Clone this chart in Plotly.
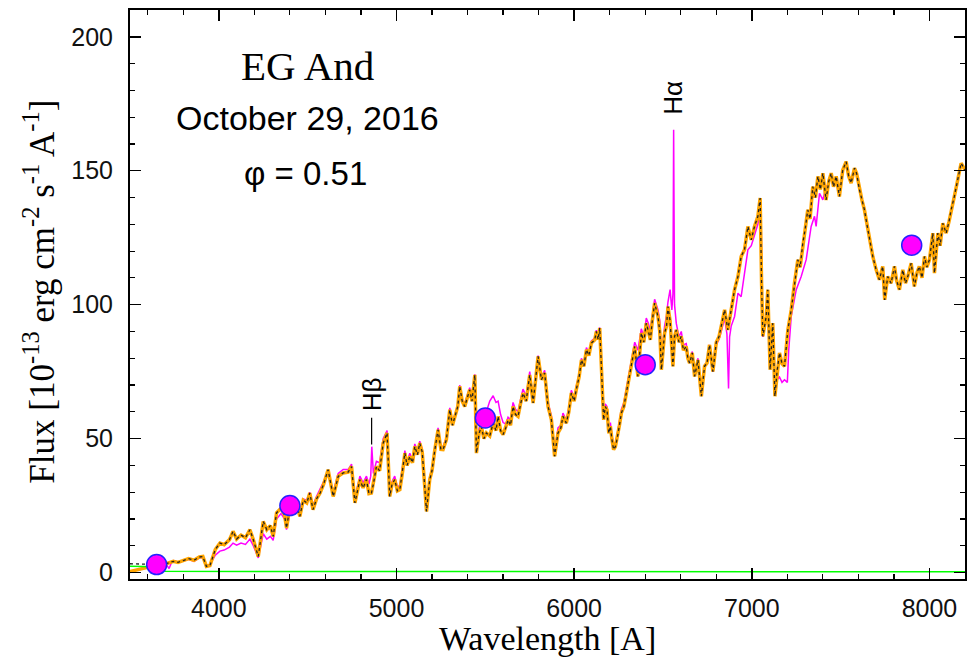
import plotly.graph_objects as go

# ---------------- data ----------------
model_wl = [3640, 3700, 3744, 3770, 3800, 3830, 3860, 3890, 3910, 3930, 3950, 3980, 4006, 4030, 4060, 4080,
            4100, 4125, 4150, 4175, 4194, 4222, 4250, 4270, 4290, 4306, 4325, 4350, 4370, 4381, 4400, 4420,
            4440, 4456, 4475, 4495, 4512, 4530, 4550, 4570, 4590, 4615, 4644, 4672, 4700, 4728, 4747, 4766,
            4794, 4812, 4831, 4845, 4859, 4870, 4887, 4905, 4925, 4947, 4962, 4975, 4990, 5005, 5019, 5035,
            5047, 5060, 5075, 5090, 5103, 5118, 5131, 5145, 5154, 5169, 5187, 5200, 5216, 5234, 5250, 5262,
            5281, 5300, 5315, 5328, 5345, 5356, 5370, 5384, 5400, 5412, 5425, 5441, 5450, 5465, 5478, 5492,
            5506, 5525, 5544, 5560, 5572, 5586, 5600, 5615, 5628, 5642, 5656, 5670, 5684, 5698, 5712, 5730,
            5750, 5769, 5778, 5797, 5816, 5834, 5853, 5872, 5890, 5909, 5925, 5937, 5956, 5970, 5984, 6000,
            6012, 6028, 6041, 6055, 6069, 6083, 6097, 6116, 6125, 6135, 6144, 6153, 6166, 6175, 6185, 6195,
            6204, 6212, 6222, 6232, 6241, 6255, 6266, 6280, 6294, 6308, 6322, 6341, 6359, 6378, 6392, 6406,
            6418, 6429, 6440, 6453, 6472, 6482, 6491, 6509, 6520, 6528, 6540, 6556, 6565, 6575, 6590, 6603,
            6615, 6631, 6640, 6650, 6665, 6678, 6697, 6716, 6734, 6748, 6762, 6781, 6800, 6815, 6828, 6847,
            6865, 6884, 6903, 6922, 6940, 6959, 6978, 6997, 7015, 7034, 7047, 7055, 7062, 7081, 7090, 7103,
            7118, 7130, 7142, 7156, 7170, 7184, 7203, 7222, 7240, 7259, 7272, 7287, 7300, 7315, 7328, 7343,
            7358, 7372, 7386, 7400, 7418, 7433, 7447, 7460, 7475, 7493, 7512, 7531, 7545, 7559, 7578, 7590,
            7606, 7620, 7634, 7648, 7662, 7681, 7700, 7718, 7737, 7748, 7765, 7784, 7803, 7815, 7831, 7850,
            7865, 7878, 7897, 7915, 7930, 7943, 7958, 7972, 7985, 8000, 8019, 8028, 8047, 8060, 8075, 8094,
            8110, 8122, 8140, 8159, 8178, 8200]
model_flux = [2.6, 3.2, 4.2, 3.8, 4.5, 5.2, 4.6, 5.8, 6.0, 2.3, 2.6, 8.6, 11.0, 10.4, 12.3, 15.4,
              12.5, 14.0, 13.0, 16.0, 12.3, 6.0, 19.1, 16.0, 17.5, 13.5, 22.3, 24.0, 21.5, 16.6, 24.5, 23.0,
              25.0, 21.0, 27.0, 26.0, 29.7, 23.5, 27.5, 29.7, 33.0, 38.4, 28.4, 35.9, 37.2, 37.5, 39.6, 26.0,
              34.7, 31.6, 34.7, 29.5, 29.7, 33.0, 39.6, 38.0, 48.3, 52.1, 28.4, 33.0, 34.7, 30.5, 31.0, 38.0,
              44.6, 40.0, 43.4, 41.0, 47.1, 44.0, 48.3, 45.0, 37.2, 22.8, 34.7, 38.0, 45.9, 53.3, 46.0, 45.9,
              49.6, 60.8, 55.0, 58.3, 62.0, 69.5, 64.0, 62.0, 66.0, 68.2, 64.0, 73.8, 44.6, 52.0, 54.5, 50.0,
              52.1, 51.0, 55.8, 53.0, 58.3, 53.0, 51.5, 54.0, 57.0, 55.0, 62.0, 59.0, 58.3, 63.0, 67.0, 64.0,
              73.8, 63.3, 68.3, 80.7, 72.0, 74.5, 62.0, 57.0, 43.4, 52.1, 54.0, 58.3, 55.8, 60.0, 67.0, 64.0,
              68.3, 73.0, 79.4, 77.0, 83.2, 81.0, 85.7, 86.9, 90.0, 87.0, 91.3, 79.4, 57.0, 62.0, 60.8, 52.0,
              54.6, 50.0, 45.9, 47.0, 49.6, 55.0, 59.6, 62.0, 67.0, 72.0, 78.2, 84.4, 73.2, 89.4, 86.0, 93.1,
              90.0, 86.9, 94.0, 100.6, 95.6, 90.0, 75.7, 89.4, 92.0, 99.3, 94.0, 77.0, 88.0, 90.6, 86.0, 88.2,
              83.0, 84.4, 80.0, 78.2, 82.0, 73.2, 79.4, 65.8, 77.0, 78.2, 85.0, 75.0, 86.0, 88.0, 92.0, 98.1,
              90.6, 98.1, 105.6, 110.5, 118.0, 120.5, 129.2, 124.2, 129.2, 132.9, 139.8, 108.0, 88.2, 95.6, 105.6, 75.7,
              93.1, 65.8, 75.0, 82.0, 78.0, 77.0, 90.6, 98.1, 108.0, 116.8, 114.0, 123.0, 128.0, 135.4, 132.0, 144.1,
              140.0, 147.9, 143.0, 149.1, 139.1, 146.0, 149.1, 144.0, 147.9, 140.4, 150.3, 153.4, 148.0, 145.4, 151.0, 149.0,
              142.9, 139.0, 135.4, 130.0, 124.2, 118.0, 113.0, 109.3, 114.3, 101.8, 110.5, 108.0, 114.3, 109.0, 105.6, 113.0,
              108.0, 110.5, 115.5, 106.8, 112.0, 114.3, 110.0, 118.0, 114.0, 116.8, 126.7, 111.8, 126.7, 122.0, 130.4, 126.7,
              131.0, 135.4, 140.4, 146.6, 152.8, 150.3]

# blue end of the two model components (they differ below ~3640 A)
orange_head_wl = [3500, 3600]
orange_head_flux = [0.4, 2.0]
black_head_wl = [3500, 3560, 3600]
black_head_flux = [3.3, 3.2, 3.1]

obs_wl = [3620, 3640, 3660, 3700, 3720, 3735, 3744, 3770, 3800, 3830, 3860, 3890, 3910, 3930, 3950, 3980,
          4006, 4030, 4060, 4080, 4100, 4125, 4150, 4175, 4194, 4222, 4250, 4270, 4290, 4306, 4325, 4350,
          4370, 4381, 4400, 4420, 4440, 4456, 4475, 4495, 4512, 4530, 4550, 4570, 4590, 4615, 4644, 4672,
          4700, 4728, 4747, 4766, 4794, 4812, 4831, 4845, 4855, 4861, 4866, 4870, 4887, 4905, 4925, 4947,
          4962, 4975, 4990, 5005, 5019, 5035, 5047, 5060, 5075, 5090, 5103, 5118, 5131, 5145, 5154, 5169,
          5187, 5200, 5216, 5234, 5250, 5262, 5281, 5300, 5315, 5328, 5345, 5356, 5370, 5384, 5400, 5412,
          5425, 5441, 5450, 5465, 5478, 5492, 5506, 5525, 5544, 5560, 5572, 5586, 5600, 5615, 5628, 5642,
          5656, 5670, 5684, 5698, 5712, 5730, 5750, 5769, 5778, 5797, 5816, 5834, 5853, 5872, 5890, 5909,
          5925, 5937, 5956, 5970, 5984, 6000, 6012, 6028, 6041, 6055, 6069, 6083, 6097, 6116, 6125, 6135,
          6144, 6153, 6166, 6175, 6185, 6195, 6204, 6212, 6222, 6232, 6241, 6255, 6266, 6280, 6294, 6308,
          6322, 6341, 6359, 6378, 6392, 6406, 6418, 6429, 6440, 6453, 6472, 6482, 6491, 6509, 6520, 6528,
          6540, 6550, 6556, 6560, 6565, 6575, 6590, 6603, 6615, 6631, 6640, 6650, 6665, 6678, 6697, 6716,
          6734, 6748, 6762, 6781, 6800, 6815, 6828, 6847, 6860, 6869, 6875, 6884, 6903, 6922, 6940, 6959,
          6978, 6997, 7015, 7034, 7047, 7052, 7058, 7062, 7081, 7090, 7103, 7118, 7130, 7142, 7156, 7170,
          7184, 7200, 7208, 7222, 7250, 7278, 7306, 7334, 7353, 7362, 7381, 7400, 7418, 7433]
obs_flux = [3.5, 3.0, 3.2, 3.5, 1.5, 4.0, 4.5, 4.0, 4.3, 5.0, 4.2, 5.5, 5.6, 2.5, 3.0, 6.5,
            8.0, 8.4, 9.5, 11.0, 10.2, 11.0, 10.5, 12.5, 10.0, 5.5, 14.5, 12.5, 13.5, 12.0, 20.0, 22.0,
            20.0, 16.0, 22.0, 22.5, 24.5, 21.5, 27.5, 27.0, 30.0, 25.0, 28.5, 31.0, 34.0, 38.0, 30.0, 37.0,
            38.5, 38.5, 40.5, 28.0, 36.0, 33.5, 36.0, 33.0, 36.0, 47.0, 38.0, 37.0, 41.5, 41.0, 50.0, 53.0,
            30.0, 34.0, 36.0, 32.0, 32.5, 39.0, 45.5, 41.5, 44.5, 42.0, 48.0, 45.5, 49.0, 46.0, 38.0, 24.0,
            35.5, 39.0, 46.5, 54.0, 47.0, 47.0, 50.5, 61.5, 56.0, 59.0, 62.5, 70.0, 64.5, 63.0, 67.0, 69.0,
            65.0, 74.0, 46.0, 54.0, 56.0, 58.0, 60.0, 64.0, 66.0, 63.5, 64.0, 59.0, 56.0, 55.5, 58.0, 57.0,
            63.5, 61.0, 60.0, 64.5, 68.5, 66.0, 75.0, 65.0, 70.0, 81.0, 73.0, 75.5, 63.5, 58.5, 45.0, 54.0,
            55.0, 59.5, 57.0, 61.5, 68.0, 65.5, 69.5, 74.0, 80.0, 78.0, 84.0, 82.0, 86.5, 87.5, 90.5, 88.0,
            91.5, 80.0, 58.5, 63.0, 62.0, 53.5, 56.0, 51.5, 47.5, 48.5, 51.0, 56.5, 61.0, 63.5, 68.5, 73.5,
            80.0, 86.0, 83.0, 91.0, 88.0, 95.0, 93.0, 90.0, 96.0, 102.0, 98.0, 94.0, 80.0, 92.0, 96.0, 101.0,
            105.6, 98.0, 104.0, 165.3, 100.0, 93.0, 88.0, 90.0, 85.0, 85.5, 81.5, 79.0, 82.5, 74.0, 80.0, 67.0,
            77.5, 78.5, 85.0, 75.0, 85.0, 87.0, 90.0, 95.0, 89.0, 68.7, 88.0, 92.0, 95.6, 104.3, 103.0, 112.0,
            120.5, 122.0, 125.5, 130.0, 134.0, 136.7, 95.6, 88.0, 94.0, 103.0, 76.0, 92.0, 66.0, 72.0, 73.0, 71.0,
            72.0, 71.0, 83.2, 95.6, 105.6, 110.5, 116.8, 129.2, 133.0, 129.2, 141.6, 139.1, 144.1, 145.0]

neb_wl = [3500, 3645, 3646, 8200]
neb_flux = [2.4, 2.2, 0.45, 0.3]

phot_wl = [3650, 4400, 5500, 6400, 7900]
phot_flux = [3.0, 25.0, 57.7, 77.6, 122.2]

x_ticks = [4000, 5000, 6000, 7000, 8000]
y_ticks = [0, 50, 100, 150, 200]

SANS = "Liberation Sans, Arial, sans-serif"
SERIF = "Liberation Serif, Times New Roman, serif"

fig = go.Figure()
fig.add_trace(go.Scatter(x=obs_wl, y=obs_flux, mode="lines",
                         line=dict(color="#ff00ff", width=1.5), hoverinfo="skip"))
fig.add_trace(go.Scatter(x=orange_head_wl + model_wl, y=orange_head_flux + model_flux, mode="lines",
                         line=dict(color="#ffa500", width=3.5), hoverinfo="skip"))
fig.add_trace(go.Scatter(x=black_head_wl + model_wl, y=black_head_flux + model_flux, mode="lines",
                         line=dict(color="#222222", width=1.3, dash="dot"), hoverinfo="skip"))
fig.add_trace(go.Scatter(x=neb_wl, y=neb_flux, mode="lines",
                         line=dict(color="#00ff00", width=1.5), hoverinfo="skip"))
fig.add_trace(go.Scatter(x=phot_wl, y=phot_flux, mode="markers",
                         marker=dict(color="#ff00ff", size=20, line=dict(color="#2222ff", width=1.5)),
                         hoverinfo="skip"))

axis_common = dict(showline=True, linecolor="black", linewidth=2, mirror="ticks",
                   ticks="inside", tickcolor="black", tickwidth=1.5, ticklen=11,
                   showgrid=False, zeroline=False,
                   tickfont=dict(family=SANS, size=25, color="#111111"))

fig.update_xaxes(range=[3500, 8200], tickvals=x_ticks, ticklabelstandoff=6,
                 minor=dict(ticks="inside", ticklen=5, tickwidth=1.2, tickcolor="black", dtick=200, tick0=0),
                 **axis_common)
fig.update_yaxes(range=[-2.4, 210], tickvals=y_ticks, ticklabelstandoff=10,
                 minor=dict(ticks="inside", ticklen=5, tickwidth=1.2, tickcolor="black", dtick=10, tick0=0),
                 **axis_common)

annotations = [
    dict(text="EG And", x=0.212, y=0.9016, xref="paper", yref="paper", showarrow=False,
         xanchor="center", yanchor="middle", font=dict(family=SERIF, size=41, color="black")),
    dict(text="October 29, 2016", x=0.212, y=0.810, xref="paper", yref="paper", showarrow=False,
         xanchor="center", yanchor="middle", font=dict(family=SANS, size=34, color="black")),
    dict(text="φ = 0.51", x=0.2096, y=0.7135, xref="paper", yref="paper", showarrow=False,
         xanchor="center", yanchor="middle", font=dict(family=SANS, size=33, color="black")),
    dict(text="Hα", x=6556, y=177.2, xref="x", yref="y", showarrow=False, textangle=-90,
         xanchor="center", yanchor="middle", font=dict(family=SANS, size=26, color="black")),
    dict(text="Hβ", x=4860, y=66.4, xref="x", yref="y", showarrow=False, textangle=-90,
         xanchor="center", yanchor="middle", font=dict(family=SANS, size=26, color="black")),
    dict(text="Wavelength [A]", x=0.5, y=-0.1037, xref="paper", yref="paper", showarrow=False,
         xanchor="center", yanchor="middle", font=dict(family=SERIF, size=34, color="black")),
    dict(text="Flux [10<sup>-13</sup> erg cm<sup>-2</sup> s<sup>-1</sup> A<sup>-1</sup>]",
         x=-0.1078, y=0.505, xref="paper", yref="paper", showarrow=False, textangle=-90,
         xanchor="center", yanchor="middle", font=dict(family=SERIF, size=35, color="black")),
]

fig.update_layout(
    width=967, height=662,
    margin=dict(l=130, r=2, t=10, b=83, autoexpand=False),
    paper_bgcolor="white", plot_bgcolor="white",
    showlegend=False, hovermode=False,
    annotations=annotations,
    shapes=[dict(type="line", xref="x", yref="y", x0=4860, x1=4860, y0=47.8, y1=57.8,
                 line=dict(color="black", width=1.2))],
)

fig.write_html("out.html", config={"displayModeBar": False, "staticPlot": True},
               post_script="document.body.style.margin='0';document.body.style.overflow='hidden';")
